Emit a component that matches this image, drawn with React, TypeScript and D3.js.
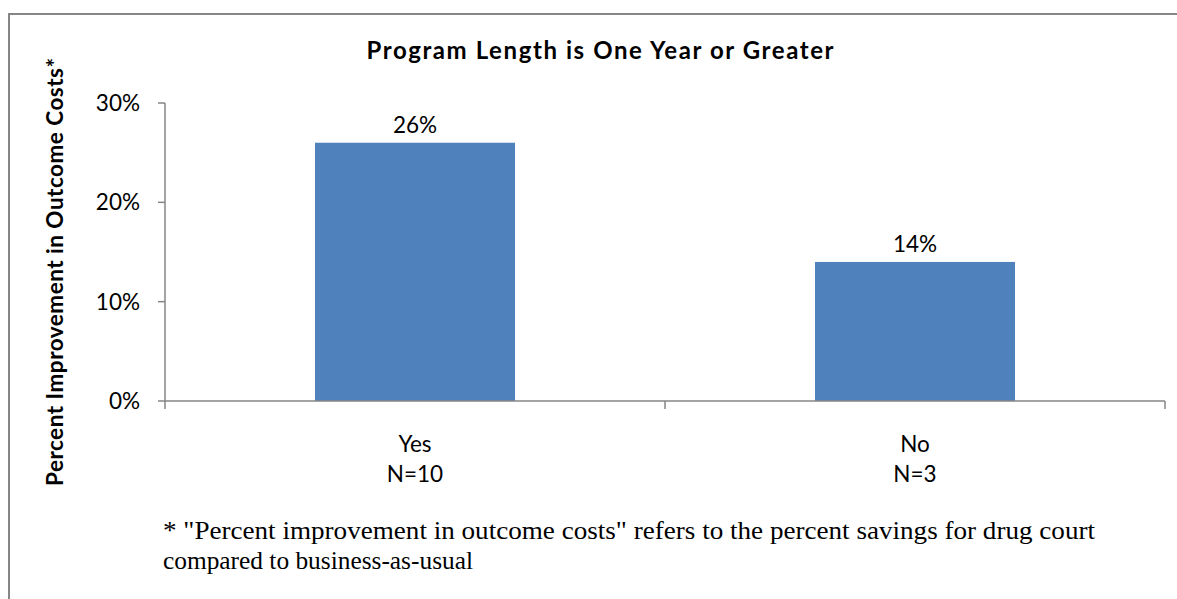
import React from "react";
import * as d3 from "d3";

const categories = ["Yes", "No"];
const sampleSizes = ["N=10", "N=3"];
const values = [0.26, 0.14];
const yTicks = [0, 0.1, 0.2, 0.3];
const title = "Program Length is One Year or Greater";
const yTitle = "Percent Improvement in Outcome Costs*";
const footnote = [
  "* \"Percent improvement in outcome costs\" refers to the percent savings for drug court",
  "compared to business-as-usual",
];
const footnoteWidths = [932, 310];

const W = 1177;
const H = 599;
const SANS = "Lato, 'Open Sans', sans-serif";
const SERIF = "'Liberation Serif', 'Times New Roman', Times, serif";
const AXIS = "#868686";
const BAR = "#4F81BD";

export default function App() {
  const x = d3
    .scaleBand<string>()
    .domain(categories)
    .range([165, 1165])
    .paddingInner(0.6)
    .paddingOuter(0.3);
  const y = d3.scaleLinear().domain([0, 0.3]).range([401, 103]);
  const fmt = d3.format(".0%");
  const step = x.step();
  const boundaries = d3.range(categories.length + 1).map((i) => 165 + i * step);

  return (
    <svg
      width={W}
      height={H}
      style={{ position: "absolute", left: 0, top: 0, background: "#fff" }}
    >
      <rect x={0} y={0} width={W} height={H} fill="#fff" />
      <rect x={9} y={14} width={W + 50} height={H + 50} fill="none" stroke={AXIS} strokeWidth={2} />

      <text
        x={600}
        y={59}
        textAnchor="middle"
        textLength={467}
        lengthAdjust="spacing"
        style={{ fontFamily: SANS, fontWeight: 700, fontSize: 24 }}
        fill="#000"
      >
        {title}
      </text>

      <text
        transform={`translate(63,272) rotate(-90)`}
        textAnchor="middle"
        textLength={428}
        lengthAdjust="spacing"
        style={{ fontFamily: SANS, fontWeight: 700, fontSize: 22.5 }}
        fill="#000"
      >
        {yTitle}
      </text>

      {/* y axis */}
      <line x1={165} x2={165} y1={y(0.3)} y2={y(0)} stroke={AXIS} strokeWidth={1.5} />
      {yTicks.map((t) => (
        <g key={t}>
          <line x1={158} x2={165} y1={y(t)} y2={y(t)} stroke={AXIS} strokeWidth={1.5} />
          <text
            x={140}
            y={y(t) + 8}
            textAnchor="end"
            style={{ fontFamily: SANS, fontSize: 22.5 }}
            fill="#000"
          >
            {fmt(t)}
          </text>
        </g>
      ))}

      {/* bars */}
      {categories.map((c, i) => (
        <g key={c}>
          <rect
            x={x(c)}
            y={y(values[i])}
            width={x.bandwidth()}
            height={y(0) - y(values[i])}
            fill={BAR}
          />
          <text
            x={(x(c) as number) + x.bandwidth() / 2}
            y={y(values[i]) - 10}
            textAnchor="middle"
            style={{ fontFamily: SANS, fontSize: 22.5 }}
            fill="#000"
          >
            {fmt(values[i])}
          </text>
          <text
            x={(x(c) as number) + x.bandwidth() / 2}
            y={452}
            textAnchor="middle"
            style={{ fontFamily: SANS, fontSize: 22.5 }}
            fill="#000"
          >
            {c}
          </text>
          <text
            x={(x(c) as number) + x.bandwidth() / 2}
            y={482}
            textAnchor="middle"
            style={{ fontFamily: SANS, fontSize: 22.5 }}
            fill="#000"
          >
            {sampleSizes[i]}
          </text>
        </g>
      ))}

      {/* x axis */}
      <line x1={165} x2={1165} y1={y(0)} y2={y(0)} stroke={AXIS} strokeWidth={1.5} />
      {boundaries.map((b) => (
        <line key={b} x1={b} x2={b} y1={y(0)} y2={y(0) + 8} stroke={AXIS} strokeWidth={1.5} />
      ))}

      {footnote.map((line, i) => (
        <text
          key={i}
          x={163}
          y={539 + i * 30}
          textLength={footnoteWidths[i]}
          lengthAdjust="spacingAndGlyphs"
          style={{ fontFamily: SERIF, fontSize: 25.5 }}
          fill="#000"
        >
          {line}
        </text>
      ))}
    </svg>
  );
}
